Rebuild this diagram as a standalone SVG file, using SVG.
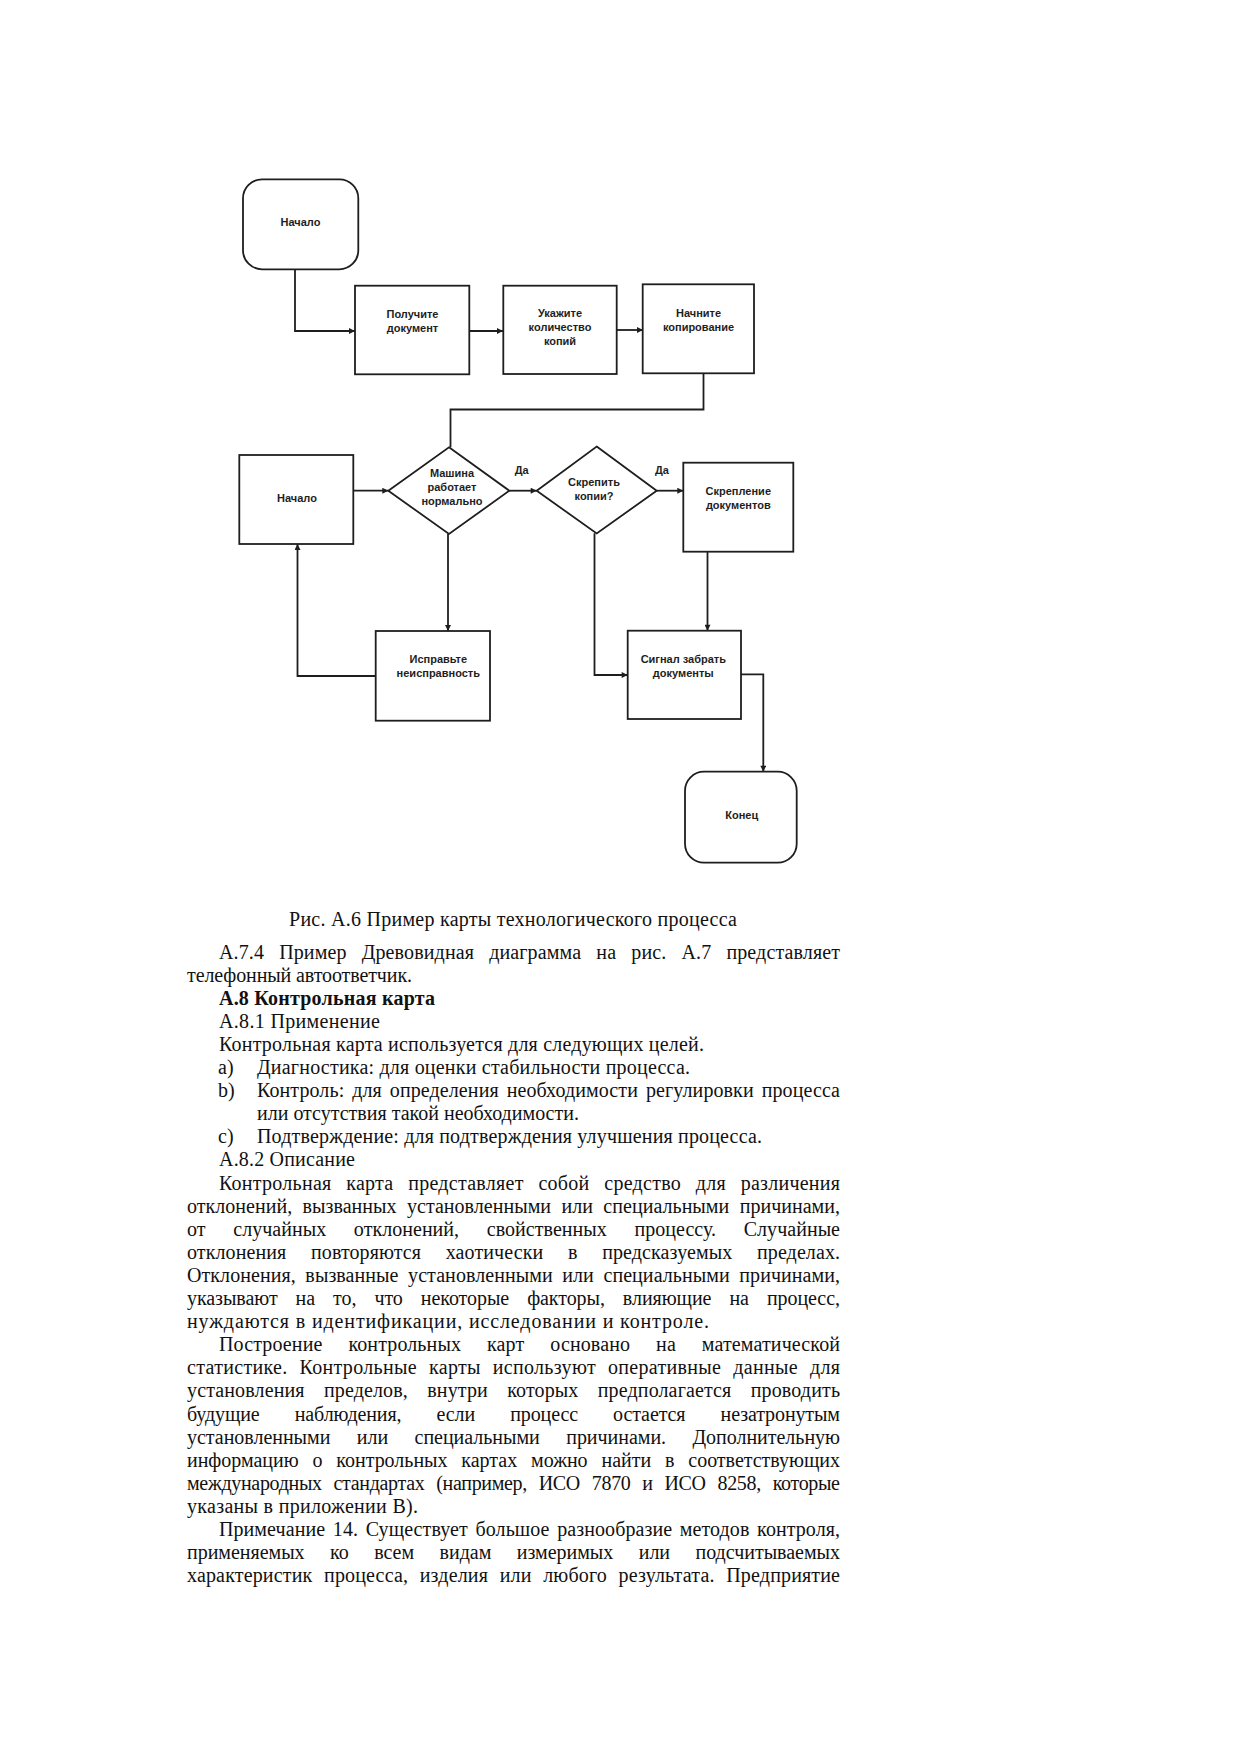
<svg xmlns="http://www.w3.org/2000/svg" width="1240" height="1755" viewBox="0 0 1240 1755">
<defs>
<style>
.nd{fill:#fff;stroke:#1e1e1e;stroke-width:1.8}
.nt{font-family:"Liberation Sans",Arial,sans-serif;font-size:11px;font-weight:bold;fill:#1e1e1e;text-anchor:middle}
.cn{fill:none;stroke:#1e1e1e;stroke-width:1.8}
.bt{font-family:"Liberation Serif","Times New Roman",serif;font-size:20px;fill:#111}
.bb{font-weight:bold}
</style>
<marker id="ar" viewBox="0 0 10 10" refX="10" refY="5" markerWidth="8" markerHeight="6" markerUnits="userSpaceOnUse" orient="auto">
<path d="M0,0 L10,5 L0,10 z" fill="#1e1e1e"/>
</marker>
</defs>
<rect width="1240" height="1755" fill="#fff"/>

<g id="connectors">
<path class="cn" d="M295,269 V331 H355" marker-end="url(#ar)"/>
<path class="cn" d="M469,331 H503" marker-end="url(#ar)"/>
<path class="cn" d="M617,330 H643" marker-end="url(#ar)"/>
<path class="cn" d="M703.5,373.5 V409.5 H450.5 V447.3"/>
<path class="cn" d="M353.5,490.7 H388.3" marker-end="url(#ar)"/>
<path class="cn" d="M509.3,490.7 H536.7" marker-end="url(#ar)"/>
<path class="cn" d="M656.7,490.7 H683.3" marker-end="url(#ar)"/>
<path class="cn" d="M707.5,551.7 V630.7" marker-end="url(#ar)"/>
<path class="cn" d="M448,534 V631" marker-end="url(#ar)"/>
<path class="cn" d="M375.7,676 H297.5 V544" marker-end="url(#ar)"/>
<path class="cn" d="M594.5,533.3 V675 H627.7" marker-end="url(#ar)"/>
<path class="cn" d="M741,674.3 H763.3 V771.7" marker-end="url(#ar)"/>
<text class="nt" x="521.7" y="473.5">Да</text>
<text class="nt" x="662" y="474">Да</text>
</g>

<g id="start">
<rect class="nd" x="243" y="179.3" width="115.3" height="90" rx="19"/>
<text class="nt" x="300.5" y="225.5">Начало</text>
</g>
<g id="get-doc">
<rect class="nd" x="355" y="285.7" width="114.3" height="88.6"/>
<text class="nt" x="412.5" y="318">Получите</text>
<text class="nt" x="412.5" y="331.5">документ</text>
</g>
<g id="copies">
<rect class="nd" x="503.3" y="285.7" width="113.4" height="88.3"/>
<text class="nt" x="560" y="317">Укажите</text>
<text class="nt" x="560" y="330.5">количество</text>
<text class="nt" x="560" y="345">копий</text>
</g>
<g id="start-copy">
<rect class="nd" x="642.7" y="284.3" width="111.3" height="89"/>
<text class="nt" x="698.5" y="316.5">Начните</text>
<text class="nt" x="698.5" y="330.5">копирование</text>
</g>
<g id="start2">
<rect class="nd" x="239.3" y="455" width="114" height="89"/>
<text class="nt" x="297" y="501.5">Начало</text>
</g>
<g id="machine-ok">
<polygon class="nd" points="449,447.3 509.3,490.7 449,534 388.3,490.7"/>
<text class="nt" x="452" y="477">Машина</text>
<text class="nt" x="452" y="490.5">работает</text>
<text class="nt" x="452" y="505">нормально</text>
</g>
<g id="staple-q">
<polygon class="nd" points="596.7,446.5 656.7,490.7 596.7,533.5 536.7,490.7"/>
<text class="nt" x="594" y="486">Скрепить</text>
<text class="nt" x="594" y="499.5">копии?</text>
</g>
<g id="staple">
<rect class="nd" x="683.3" y="462.7" width="110" height="89"/>
<text class="nt" x="738.3" y="495">Скрепление</text>
<text class="nt" x="738.3" y="509">документов</text>
</g>
<g id="fix">
<rect class="nd" x="375.7" y="631" width="114.3" height="89.7"/>
<text class="nt" x="438.3" y="663">Исправьте</text>
<text class="nt" x="438.3" y="677">неисправность</text>
</g>
<g id="signal">
<rect class="nd" x="627.7" y="630.7" width="113.3" height="88.3"/>
<text class="nt" x="683.3" y="663">Сигнал забрать</text>
<text class="nt" x="683.3" y="677">документы</text>
</g>
<g id="end">
<rect class="nd" x="685" y="771.7" width="111.7" height="91" rx="19"/>
<text class="nt" x="741.7" y="819">Конец</text>
</g>

<g id="body-text" class="bt">
<text x="289" y="926" textLength="448" lengthAdjust="spacing">Рис. А.6 Пример карты технологического процесса</text>
<text x="219" y="958.5" textLength="621" lengthAdjust="spacing" style="word-spacing:10px">А.7.4 Пример Древовидная диаграмма на рис. А.7 представляет</text>
<text x="187" y="981.6" textLength="225" lengthAdjust="spacing">телефонный автоответчик.</text>
<text x="219" y="1004.7" class="bb" textLength="216" lengthAdjust="spacing">А.8 Контрольная карта</text>
<text x="219" y="1027.8" textLength="161" lengthAdjust="spacing">А.8.1 Применение</text>
<text x="219" y="1050.9" textLength="485" lengthAdjust="spacing">Контрольная карта используется для следующих целей.</text>
<text x="218" y="1074">a)</text>
<text x="257" y="1074" textLength="433" lengthAdjust="spacing">Диагностика: для оценки стабильности процесса.</text>
<text x="218" y="1097.1">b)</text>
<text x="257" y="1097.1" textLength="583" lengthAdjust="spacing" style="word-spacing:2.8px">Контроль: для определения необходимости регулировки процесса</text>
<text x="257" y="1120.2">или отсутствия такой необходимости.</text>
<text x="218" y="1143.3">c)</text>
<text x="257" y="1143.3" textLength="505" lengthAdjust="spacing">Подтверждение: для подтверждения улучшения процесса.</text>
<text x="219" y="1166.4" textLength="136" lengthAdjust="spacing">А.8.2 Описание</text>
<text x="219" y="1189.5" textLength="621" lengthAdjust="spacing" style="word-spacing:9.5px">Контрольная карта представляет собой средство для различения</text>
<text x="187" y="1212.6" textLength="653" lengthAdjust="spacing" style="word-spacing:5.4px">отклонений, вызванных установленными или специальными причинами,</text>
<text x="187" y="1235.7" textLength="653" lengthAdjust="spacing" style="word-spacing:22.6px">от случайных отклонений, свойственных процессу. Случайные</text>
<text x="187" y="1258.8" textLength="653" lengthAdjust="spacing" style="word-spacing:19.6px">отклонения повторяются хаотически в предсказуемых пределах.</text>
<text x="187" y="1281.9" textLength="653" lengthAdjust="spacing" style="word-spacing:4.5px">Отклонения, вызванные установленными или специальными причинами,</text>
<text x="187" y="1305" textLength="653" lengthAdjust="spacing" style="word-spacing:13.1px">указывают на то, что некоторые факторы, влияющие на процесс,</text>
<text x="187" y="1328.1" textLength="522" lengthAdjust="spacing">нуждаются в идентификации, исследовании и контроле.</text>
<text x="219" y="1351.2" textLength="621" lengthAdjust="spacing" style="word-spacing:20.8px">Построение контрольных карт основано на математической</text>
<text x="187" y="1374.3" textLength="653" lengthAdjust="spacing" style="word-spacing:6.7px">статистике. Контрольные карты используют оперативные данные для</text>
<text x="187" y="1397.4" textLength="653" lengthAdjust="spacing" style="word-spacing:14.2px">установления пределов, внутри которых предполагается проводить</text>
<text x="187" y="1420.5" textLength="653" lengthAdjust="spacing" style="word-spacing:30.2px">будущие наблюдения, если процесс остается незатронутым</text>
<text x="187" y="1443.6" textLength="653" lengthAdjust="spacing" style="word-spacing:21.5px">установленными или специальными причинами. Дополнительную</text>
<text x="187" y="1466.7" textLength="653" lengthAdjust="spacing" style="word-spacing:8.9px">информацию о контрольных картах можно найти в соответствующих</text>
<text x="187" y="1489.8" textLength="653" lengthAdjust="spacing" style="word-spacing:7.1px">международных стандартах (например, ИСО 7870 и ИСО 8258, которые</text>
<text x="187" y="1512.9" textLength="231" lengthAdjust="spacing">указаны в приложении В).</text>
<text x="219" y="1536" textLength="621" lengthAdjust="spacing" style="word-spacing:2.6px">Примечание 14. Существует большое разнообразие методов контроля,</text>
<text x="187" y="1559.1" textLength="653" lengthAdjust="spacing" style="word-spacing:20.5px">применяемых ко всем видам измеримых или подсчитываемых</text>
<text x="187" y="1582.2" textLength="653" lengthAdjust="spacing" style="word-spacing:6.5px">характеристик процесса, изделия или любого результата. Предприятие</text>
</g>
</svg>
